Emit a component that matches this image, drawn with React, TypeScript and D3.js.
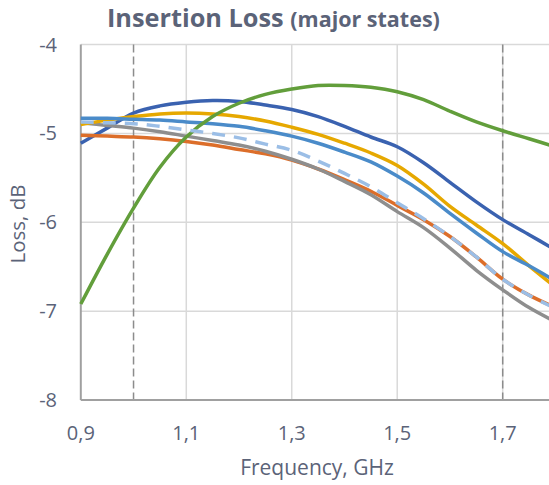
import React from "react";
import * as d3 from "d3";

const freqs = [0.9, 0.95, 1.0, 1.05, 1.1, 1.15, 1.2, 1.25, 1.3, 1.35, 1.4, 1.45, 1.5, 1.55, 1.6, 1.65, 1.7, 1.75, 1.8];

const stateA = [-5.11, -4.94, -4.77, -4.69, -4.65, -4.63, -4.64, -4.68, -4.73, -4.81, -4.92, -5.04, -5.15, -5.33, -5.55, -5.77, -5.97, -6.14, -6.31];
const stateB = [-5.02, -5.03, -5.04, -5.06, -5.09, -5.13, -5.18, -5.23, -5.30, -5.40, -5.52, -5.65, -5.81, -5.97, -6.16, -6.39, -6.64, -6.82, -6.96];
const stateC = [-4.88, -4.91, -4.94, -4.98, -5.03, -5.08, -5.13, -5.20, -5.29, -5.40, -5.54, -5.69, -5.88, -6.06, -6.29, -6.54, -6.76, -6.96, -7.12];
const stateD = [-4.90, -4.85, -4.81, -4.78, -4.77, -4.78, -4.81, -4.86, -4.93, -5.01, -5.11, -5.22, -5.36, -5.57, -5.82, -6.03, -6.24, -6.49, -6.73];
const stateE = [-4.83, -4.83, -4.84, -4.85, -4.87, -4.89, -4.92, -4.97, -5.03, -5.11, -5.21, -5.32, -5.48, -5.67, -5.90, -6.12, -6.33, -6.49, -6.66];
const stateF = [-6.92, -6.36, -5.84, -5.38, -5.04, -4.81, -4.66, -4.56, -4.50, -4.46, -4.46, -4.48, -4.53, -4.62, -4.75, -4.87, -4.97, -5.06, -5.15];
const stateG = [-4.87, -4.88, -4.89, -4.92, -4.96, -5.00, -5.05, -5.12, -5.19, -5.31, -5.45, -5.60, -5.78, -5.96, -6.16, -6.39, -6.64, -6.82, -6.97];

const xTicks = [0.9, 1.1, 1.3, 1.5, 1.7];
const yTicks = [-4, -5, -6, -7, -8];
const bandEdges = [1.0, 1.7];

const series = [
  { name: "A", values: stateA, color: "#3A62B0", dash: "" },
  { name: "B", values: stateB, color: "#DC6E2A", dash: "" },
  { name: "C", values: stateC, color: "#8E8E8E", dash: "" },
  { name: "D", values: stateD, color: "#E6A800", dash: "" },
  { name: "E", values: stateE, color: "#4A8BC9", dash: "" },
  { name: "F", values: stateF, color: "#629E3B", dash: "" },
  { name: "G", values: stateG, color: "#9BBEE6", dash: "13,9" },
];

const W = 549;
const H = 485;
const textColor = "#5B6378";
const font = "'Open Sans', sans-serif";

export default function App() {
  const x = d3.scaleLinear().domain([0.9, 1.7]).range([80.8, 502.7]);
  const y = d3.scaleLinear().domain([-4, -8]).range([44.6, 400]);
  const line = d3
    .line<number>()
    .x((_, i) => x(freqs[i]))
    .y((v) => y(v))
    .curve(d3.curveCatmullRom.alpha(0.5));

  const x0 = x(0.9);
  const xEnd = W + 10;
  const yTop = y(-4);
  const yBot = y(-8);

  return (
    <div style={{ position: "fixed", left: 0, top: 0 }}>
      <svg width={W} height={H} style={{ display: "block", background: "#fff" }}>
        {/* title */}
        <text x={107} y={26.5} fill={textColor} fontFamily={font} fontWeight={700} fontSize={25.3}>
          Insertion Loss{" "}
          <tspan fontSize={21.5}>(major states)</tspan>
        </text>

        {/* horizontal gridlines */}
        {yTicks.map((t) => (
          <line key={"hy" + t} x1={x0} x2={xEnd} y1={y(t)} y2={y(t)} stroke="#D9D9D9" strokeWidth={1.5} />
        ))}
        {/* vertical gridlines */}
        {xTicks.slice(1).map((t) => (
          <line key={"vx" + t} x1={x(t)} x2={x(t)} y1={yTop} y2={yBot} stroke="#D9D9D9" strokeWidth={1.5} />
        ))}
        {/* band edge dashed lines */}
        {bandEdges.map((t) => (
          <line key={"be" + t} x1={x(t)} x2={x(t)} y1={yTop} y2={yBot} stroke="#8C8C8C" strokeWidth={1.5} strokeDasharray="8,4" />
        ))}
        {/* axes */}
        <line x1={x0} x2={x0} y1={yTop} y2={yBot} stroke="#A0A0A0" strokeWidth={2} />
        <line x1={x0} x2={xEnd} y1={yBot} y2={yBot} stroke="#A0A0A0" strokeWidth={2} />

        {/* series */}
        {series.map((s) => (
          <path
            key={s.name}
            d={line(s.values) || ""}
            fill="none"
            stroke={s.color}
            strokeWidth={3.5}
            strokeDasharray={s.dash || undefined}
            strokeLinecap="butt"
          />
        ))}

        {/* y tick labels */}
        {yTicks.map((t) => (
          <text key={"yl" + t} x={57} y={y(t)} dy="0.35em" textAnchor="end" fill={textColor} fontFamily={font} fontSize={20}>
            {String(t)}
          </text>
        ))}
        {/* x tick labels */}
        {xTicks.map((t) => (
          <text key={"xl" + t} x={x(t)} y={440} textAnchor="middle" fill={textColor} fontFamily={font} fontSize={20}>
            {d3.format(".1f")(t).replace(".", ",")}
          </text>
        ))}

        {/* axis titles */}
        <text x={317} y={475} textAnchor="middle" fill={textColor} fontFamily={font} fontSize={21}>
          Frequency, GHz
        </text>
        <text
          transform={`translate(25, 224) rotate(-90)`}
          textAnchor="middle"
          fill={textColor}
          fontFamily={font}
          fontSize={20.5}
        >
          Loss, dB
        </text>
      </svg>
    </div>
  );
}
